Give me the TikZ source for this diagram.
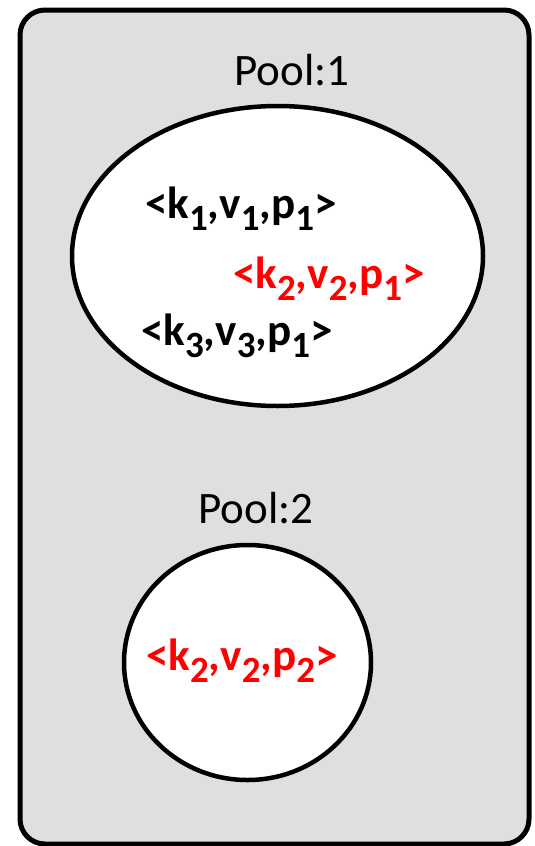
\documentclass[tikz,border=0pt]{standalone}
\usepackage{fontspec}
\setmainfont{Carlito}
\definecolor{poolgray}{HTML}{DFDFDF}
\definecolor{hotred}{HTML}{FF0000}
% lowered, slightly smaller index digit
\newcommand\idx[1]{\raisebox{-12pt}{\fontsize{37}{37}\selectfont #1}}
\newcommand\tuple[3]{<k\idx{#1},v\idx{#2},p\idx{#3}>}
\tikzset{
  pool/.style={draw=black, line width=4.5pt, fill=white},
  caption/.style={anchor=base, inner sep=0pt, font=\fontsize{45}{45}\selectfont},
  entry/.style={anchor=base west, inner sep=0pt, font=\fontsize{45}{45}\selectfont\bfseries},
}
\begin{document}
\begin{tikzpicture}[x=1pt,y=-1pt]
\useasboundingbox (0,0) rectangle (535,846);
% container
\draw[line width=5pt, fill=poolgray, rounded corners=25pt] (20,10) rectangle (529,844);
% pools
\draw[pool] (277.5,256) ellipse [x radius=205.5, y radius=150];
\draw[pool] (247.5,662.5) ellipse [x radius=123.5, y radius=117.5];
\node[caption] (p1) at (292,85) {Pool:1};
\node[caption] (p2) at (256,523) {Pool:2};
% entries
\node[entry] (e1) at (145,218) {\tuple{1}{1}{1}};
\node[entry, text=hotred] (e2) at (233,288) {\tuple{2}{2}{1}};
\node[entry] (e3) at (141,345) {\tuple{3}{3}{1}};
\node[entry, text=hotred] (e4) at (146,670) {\tuple{2}{2}{2}};
\end{tikzpicture}
\end{document}
